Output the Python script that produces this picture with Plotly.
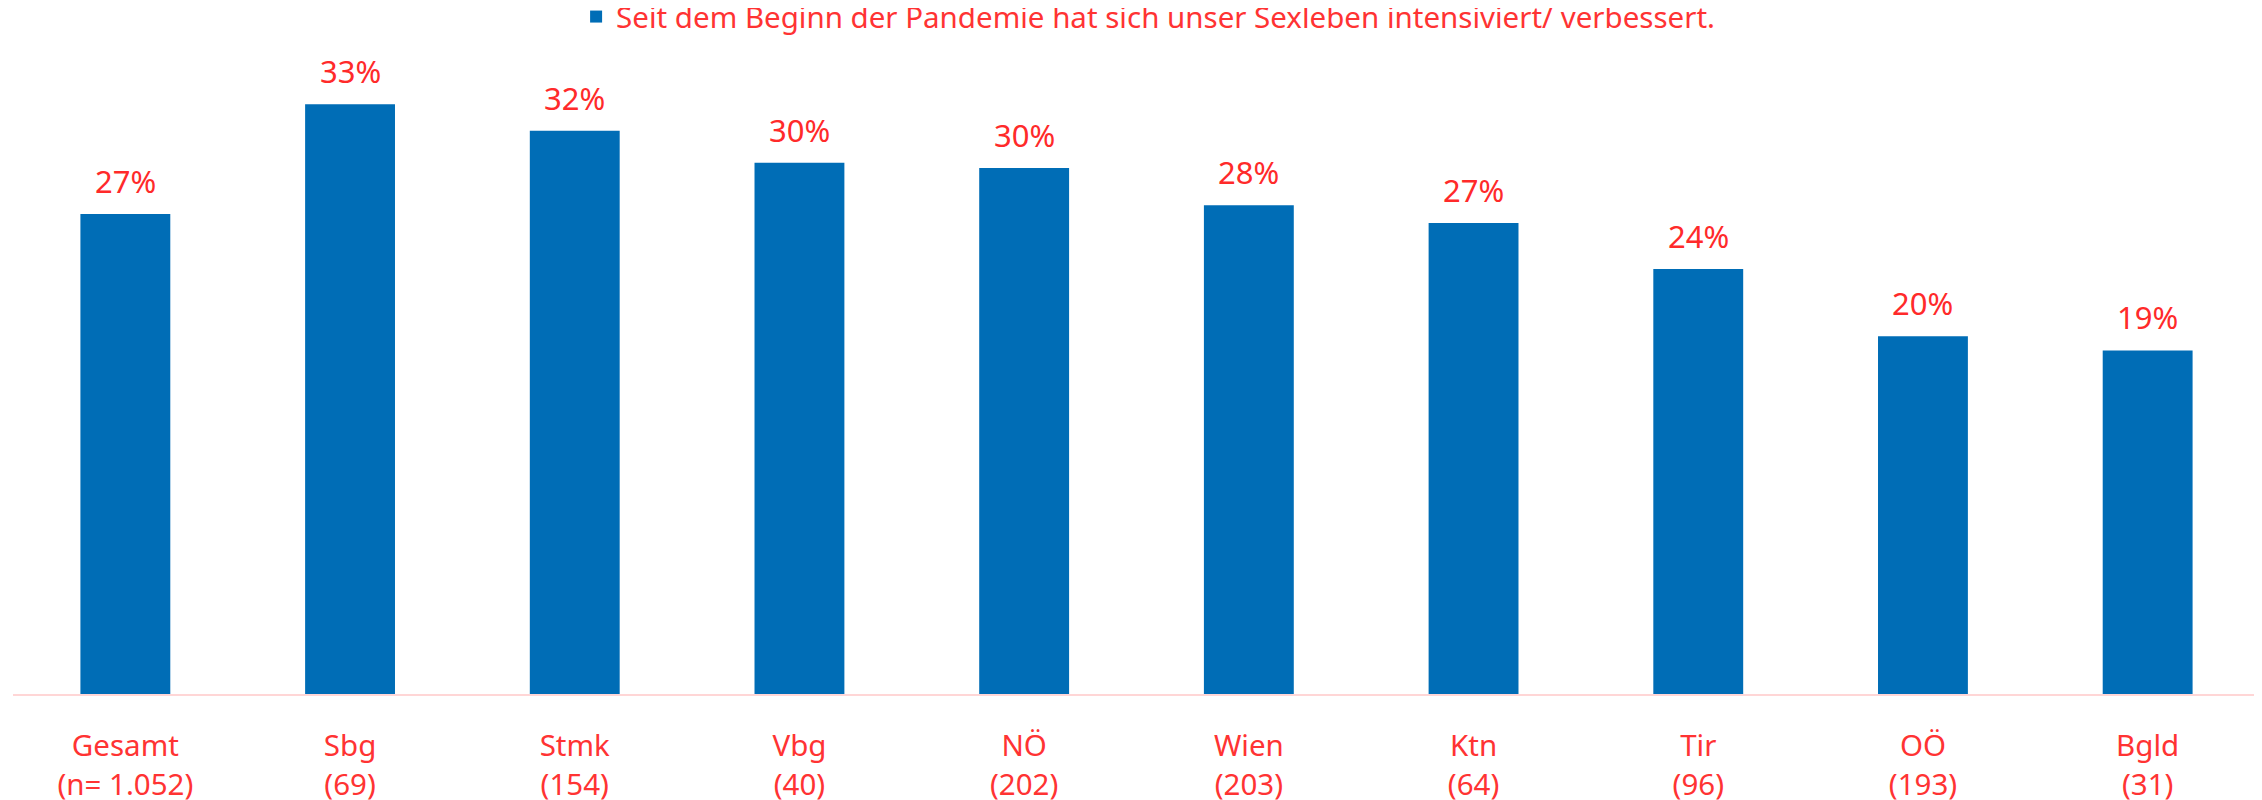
import plotly.graph_objects as go

categories = ["Gesamt<br>(n= 1.052)", "Sbg<br>(69)", "Stmk<br>(154)", "Vbg<br>(40)", "NÖ<br>(202)",
              "Wien<br>(203)", "Ktn<br>(64)", "Tir<br>(96)", "OÖ<br>(193)", "Bgld<br>(31)"]
values = [27.1, 33.3, 31.8, 30.0, 29.7, 27.6, 26.6, 24.0, 20.2, 19.4]
value_labels = ["27%", "33%", "32%", "30%", "30%", "28%", "27%", "24%", "20%", "19%"]
series_name = "Seit dem Beginn der Pandemie hat sich unser Sexleben intensiviert/ verbessert."

FONT = "Noto Sans"
BAR_COLOR = "#006DB6"
RED = "#FF3333"

fig = go.Figure()
fig.add_trace(go.Bar(
    x=categories, y=values, name=series_name,
    marker=dict(color=BAR_COLOR, line=dict(width=0)),
    showlegend=True,
))

for c, v, t in zip(categories, values, value_labels):
    fig.add_annotation(x=c, y=v, xref="x", yref="y", text=t, showarrow=False,
                       yanchor="bottom", yshift=10,
                       font=dict(family=FONT, size=31, color="#FF2A2A"))

# The page body has an 8px default margin, so the figure is offset to line up with the window.
fig.update_layout(
    width=2254, height=792,
    margin=dict(l=5, r=2, t=52, b=106, autoexpand=False),
    paper_bgcolor="white", plot_bgcolor="white",
    bargap=0.6,
    font=dict(family=FONT, color=RED),
    showlegend=True,
    legend=dict(orientation="h", x=0.2506, xanchor="left", y=1.068, yanchor="middle",
                font=dict(family=FONT, size=29.5, color=RED), bgcolor="rgba(0,0,0,0)"),
    xaxis=dict(showline=True, linecolor="#FFD6D6", linewidth=1.5, showgrid=False,
               ticks="", tickfont=dict(family=FONT, size=29.5, color=RED),
               ticklabelstandoff=25, fixedrange=True, automargin=False),
    yaxis=dict(range=[0, 35.8], visible=False, showgrid=False, zeroline=False,
               fixedrange=True, automargin=False),
)

fig.write_html("out.html")
